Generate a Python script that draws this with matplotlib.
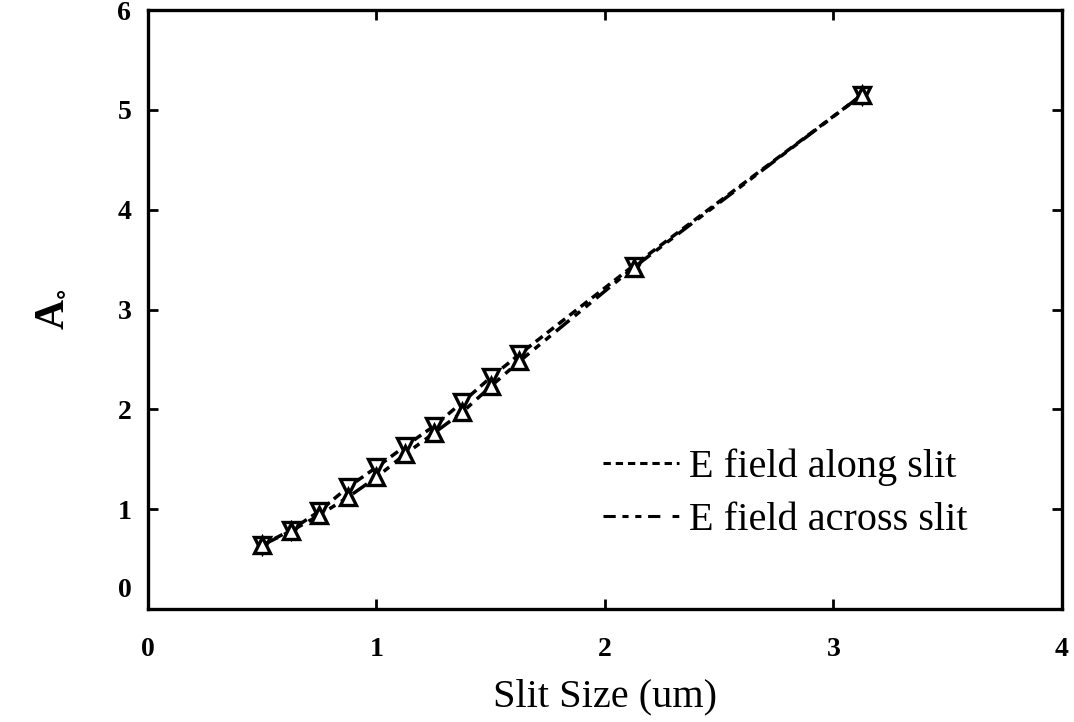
import numpy as np
import matplotlib.pyplot as plt
from matplotlib.lines import Line2D
import matplotlib.transforms as mtransforms

plt.rcParams['mathtext.fontset'] = 'stix'

# slit size (um)
slit = [0.5, 0.625, 0.75, 0.875, 1.0, 1.125, 1.25, 1.375, 1.5, 1.625, 2.125, 3.125]
# E field along slit
along = [0.64, 0.79, 0.98, 1.22, 1.42, 1.63, 1.83, 2.07, 2.32, 2.55, 3.44, 5.15]
# E field across slit
across = [0.64, 0.78, 0.94, 1.12, 1.32, 1.55, 1.76, 1.97, 2.23, 2.48, 3.42, 5.15]

xticks = [0, 1, 2, 3, 4]
yticks = [0, 1, 2, 3, 4, 5, 6]

serif = 'Liberation Serif'

fig = plt.figure(figsize=(10.74, 7.22), dpi=100)
ax = fig.add_axes([0.1378, 0.1565, 0.8510, 0.8296])

along_ls = (0, (2.5, 1.6))
across_ls = (0, (5.0, 2.0, 2.0, 2.0, 2.0, 2.0))

ax.plot(slit, along, color='black', lw=2.5, linestyle=along_ls,
        marker='v', markersize=11, markerfacecolor='white',
        markeredgecolor='black', markeredgewidth=2.4)
ax.plot(slit, across, color='black', lw=2.5, linestyle=across_ls,
        marker='^', markersize=11, markerfacecolor='white',
        markeredgecolor='black', markeredgewidth=2.4)

ax.set_xlim(0, 4)
ax.set_ylim(0, 6)
ax.set_xticks(xticks)
ax.set_yticks(yticks)
ax.set_xticklabels([str(t) for t in xticks], fontfamily=serif, fontweight='bold', fontsize=20)
ax.set_yticklabels([str(t) for t in yticks], fontfamily=serif, fontweight='bold', fontsize=20)
ax.tick_params(direction='in', length=7, width=2, top=True, right=True)
ax.tick_params(axis='x', pad=20)
ax.tick_params(axis='y', pad=12)
for s in ax.spines.values():
    s.set_linewidth(2.4)

# nudge the y "0" label upward like the original
lab0 = ax.get_yticklabels()[0]
lab0.set_transform(lab0.get_transform() + mtransforms.ScaledTranslation(0, 0.22, fig.dpi_scale_trans))

ax.set_xlabel('Slit Size (um)', fontfamily=serif, fontsize=29, labelpad=12)
ax.set_ylabel(r'A$_{\circ}$', fontfamily=serif, fontsize=30, fontweight='bold', labelpad=34)

handles = [Line2D([], [], color='black', lw=2.2, linestyle=(0, (2.4, 1.6))),
           Line2D([], [], color='black', lw=2.2, linestyle=(0, (4, 2.2, 2, 2.2, 2, 2.2, 4)))]
ax.legend(handles, ['E field along slit', 'E field across slit'],
          loc='lower left', bbox_to_anchor=(0.48, 0.09), frameon=False,
          prop={'family': serif, 'size': 29}, handlelength=1.9, handletextpad=0.25,
          labelspacing=0.4, borderaxespad=0)

fig.savefig('out.png', dpi=100)
